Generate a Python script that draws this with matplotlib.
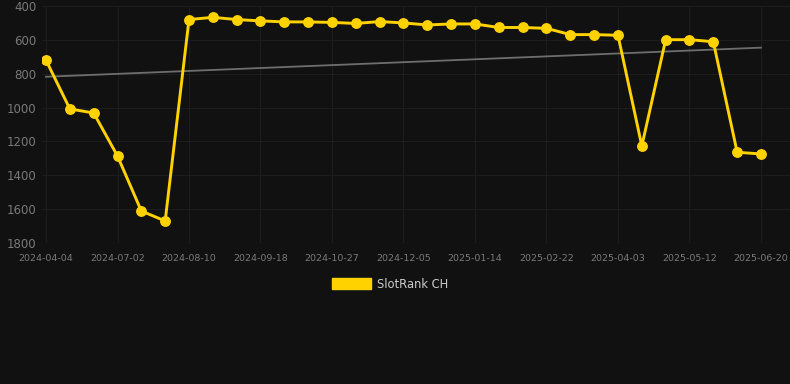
import numpy as np
import matplotlib.pyplot as plt
from matplotlib.patches import Patch

dates = ['2024-04-04', '2024-05-02', '2024-06-04', '2024-07-02', '2024-07-15', '2024-07-28',
         '2024-08-10', '2024-08-23', '2024-09-05', '2024-09-18', '2024-10-01', '2024-10-14',
         '2024-10-27', '2024-11-09', '2024-11-22', '2024-12-05', '2024-12-18', '2024-12-31',
         '2025-01-14', '2025-01-27', '2025-02-09', '2025-02-22', '2025-03-07', '2025-03-20',
         '2025-04-03', '2025-04-16', '2025-04-29', '2025-05-12', '2025-05-25', '2025-06-07',
         '2025-06-20']
rank = [720, 1008, 1032, 1286, 1611, 1670,
        480, 467, 480, 488, 494, 494,
        497, 503, 492, 500, 512, 506,
        506, 527, 527, 532, 569, 569,
        573, 1227, 599, 599, 611, 1264,
        1274]
trend = [818, 646]

bg = '#111111'
gold = '#FFD200'

fig = plt.figure(figsize=(7.9, 3.84), dpi=100, facecolor=bg)
ax = fig.add_axes([42/790, 1 - 243/384, 748/790, 237/384], facecolor=bg)

x = np.arange(len(rank))
ax.plot([x[0], x[-1]], trend, color='#6e6e6e', lw=1.3, zorder=2)
ax.plot(x, rank, color=gold, lw=2.1, marker='o', ms=6.8, zorder=3)

ax.set_ylim(1800, 400)
ax.set_yticks(range(400, 1801, 200))
ax.set_xlim(-4/23.83, 30 + 29/23.83)
ax.set_xticks(x[::3])
ax.set_xticklabels(dates[::3])

ax.grid(True, color='#1d1d1d', lw=0.8)
ax.axhline(1800, color='#2a2a2a', lw=0.8)
for s in ax.spines.values():
    s.set_visible(False)
ax.tick_params(axis='both', length=0, colors='#7a7a7a')
ax.tick_params(axis='y', labelsize=8.5, pad=4)
ax.tick_params(axis='x', labelsize=6.8, pad=8)

leg = fig.legend(handles=[Patch(color=gold, label='SlotRank CH')], loc='center',
                 bbox_to_anchor=(390/790, 1 - 284/384), frameon=False,
                 fontsize=8.3, handlelength=3.4, handleheight=1.0, handletextpad=0.5)
for t in leg.get_texts():
    t.set_color('#cccccc')

fig.savefig('out.png', facecolor=bg)
